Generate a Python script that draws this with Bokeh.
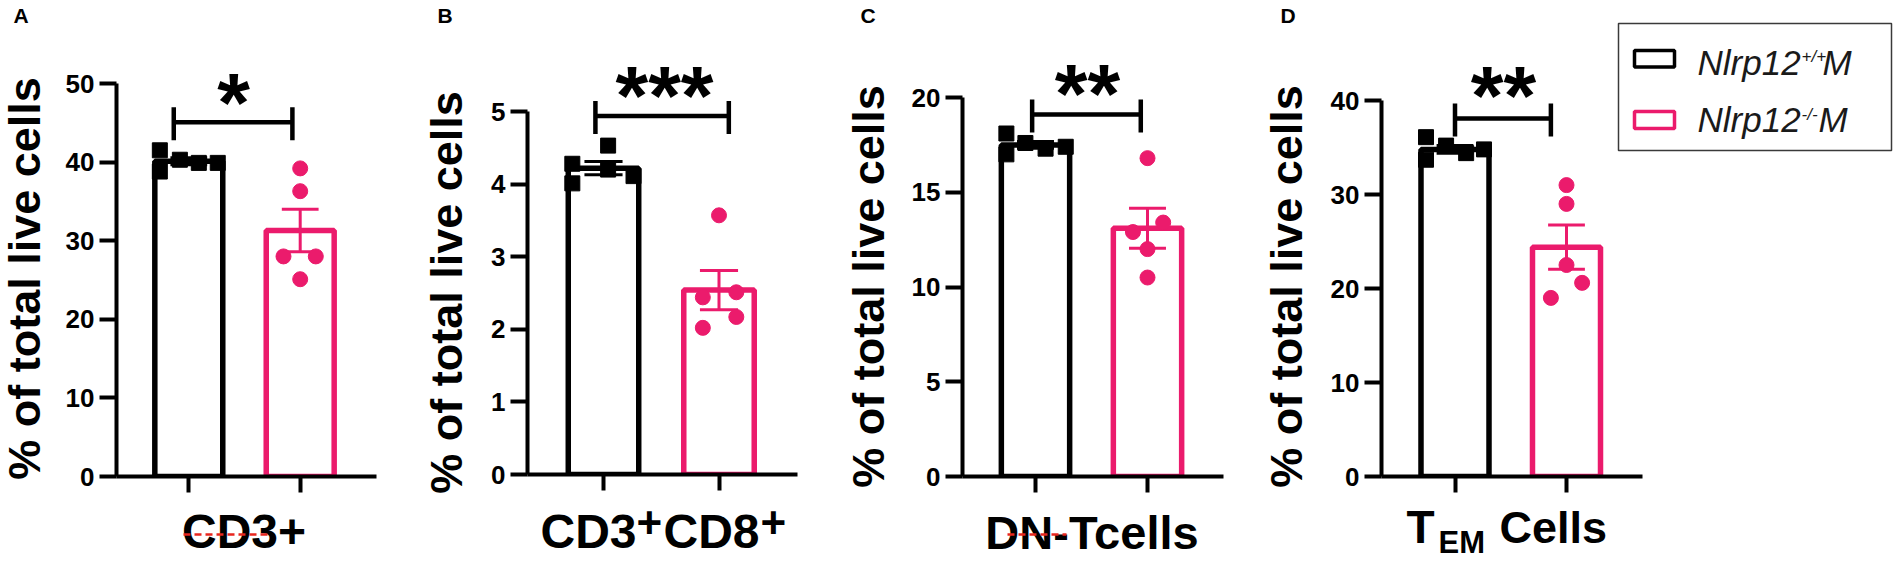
import numpy as np
from bokeh.plotting import figure
from bokeh.models import Label, FixedTicker, Range1d
from bokeh.layouts import row, column
from bokeh.embed import file_html
from bokeh.resources import INLINE

# ---------------- data ----------------
groups = ["Nlrp12+/+M", "Nlrp12-/-M"]
panel_letters = ["A", "B", "C", "D"]
categories = ["CD3+", "CD3+CD8+", "DN-Tcells", "TEM Cells"]
sig_labels = ["*", "***", "**", "**"]
y_title = "% of total live cells"

a_wt = [41.5, 38.8, 40.3, 39.9, 39.9]
a_ko = [39.2, 36.3, 28.0, 28.0, 25.1]
a_mean = [40.1, 31.3]
a_sem = [0.44, 2.7]
a_ticks = [0, 10, 20, 30, 40, 50]

b_wt = [4.53, 4.28, 4.01, 4.20, 4.11]
b_ko = [3.57, 2.44, 2.51, 2.17, 2.02]
b_mean = [4.22, 2.54]
b_sem = [0.09, 0.27]
b_ticks = [0, 1, 2, 3, 4, 5]

c_wt = [18.1, 17.0, 17.6, 17.3, 17.4]
c_ko = [16.8, 12.9, 13.4, 12.0, 10.5]
c_mean = [17.5, 13.1]
c_sem = [0.18, 1.05]
c_ticks = [0, 5, 10, 15, 20]

d_wt = [36.1, 33.7, 35.2, 34.4, 34.8]
d_ko = [31.0, 29.0, 22.5, 20.6, 19.0]
d_mean = [34.8, 24.4]
d_sem = [0.40, 2.35]
d_ticks = [0, 10, 20, 30, 40]

# ---------------- layout / style (pixel positions on the page) ----------------
BLACK = "#000000"
PINK = "#EB1B6C"
RED = "#E8261E"
FONT = "Liberation Sans"
W_TOTAL, H_TOTAL = 1895, 562
K = 0.43          # baseline calibration of rendered labels (fraction of font size)
XAX_H = 20        # height reserved for the x axis ticks below each frame

LAY = [
    dict(panel=(0, 410), strip=56, L=116, R=376, c1=188.3, c2=299.7, y0=476, ytop=83,
         jw=[-0.26, -0.26, -0.08, 0.09, 0.26], jk=[0, 0, -0.15, 0.14, 0],
         br=(0.865, 1.93), br_y=121.7, star=(233, 90), ylx=43, ylc=278, letter=13),
    dict(panel=(410, 835), strip=482, L=527, R=797, c1=603, c2=718.5, y0=474, ytop=111,
         jw=[0.04, -0.27, -0.27, 0.04, 0.26], jk=[0, -0.14, 0.15, 0.15, -0.14],
         br=(0.93, 2.085), br_y=115.4, star=(664, 83), ylx=465, ylc=292, letter=437),
    dict(panel=(835, 1255), strip=902, L=962, R=1223, c1=1035, c2=1147, y0=476, ytop=97,
         jw=[-0.26, -0.26, -0.09, 0.09, 0.27], jk=[0, -0.13, 0.14, 0, 0],
         br=(0.97, 1.94), br_y=114, star=(1087, 81), ylx=887, ylc=286, letter=860),
    dict(panel=(1255, 1895), strip=1321, L=1381, R=1642, c1=1454.5, c2=1566, y0=476, ytop=100,
         jw=[-0.26, -0.26, -0.08, 0.10, 0.26], jk=[0, 0, 0, 0.14, -0.14],
         br=(1.0, 1.86), br_y=118, star=(1503, 83), ylx=1305, ylc=286, letter=1280),
]

DATA = [
    (a_wt, a_ko, a_mean, a_sem, a_ticks),
    (b_wt, b_ko, b_mean, b_sem, b_ticks),
    (c_wt, c_ko, c_mean, c_sem, c_ticks),
    (d_wt, d_ko, d_mean, d_sem, d_ticks),
]


def lab(p, x, y, text, size, style="bold", align="left", color=BLACK, angle=0.0):
    p.add_layout(Label(x=x, y=y, text=text, text_font=FONT, text_font_size=f"{size}px",
                       text_font_style=style, text_align=align,
                       text_baseline="alphabetic", text_color=color, angle=angle))


def blank(x_left, x_right, y_top, y_bot, fx0=None, fx1=None):
    """Figure whose frame spans [fx0, fx1] horizontally (page px) and its full
    height; data units = page pixels (y downward)."""
    fx0 = x_left if fx0 is None else fx0
    fx1 = x_right if fx1 is None else fx1
    p = figure(width=int(round(x_right - x_left)), height=int(round(y_bot - y_top)),
               x_range=Range1d(fx0, fx1), y_range=Range1d(y_bot, y_top),
               x_axis_type=None, y_axis_type=None, output_backend="svg",
               toolbar_location=None, min_border=0,
               min_border_left=int(round(fx0 - x_left)),
               min_border_right=int(round(x_right - fx1)),
               min_border_top=0, min_border_bottom=0)
    p.outline_line_color = None
    p.background_fill_color = "white"
    p.border_fill_color = "white"
    return p


def build(i):
    lay = LAY[i]
    wt, ko, mean, sem, ticks = DATA[i]
    pl, pr = lay["panel"]
    sr = lay["strip"]
    L, R, c1, c2, y0, ytop = lay["L"], lay["R"], lay["c1"], lay["c2"], lay["y0"], lay["ytop"]
    last = (i == 3)
    Rf = pr if last else R
    sx = c2 - c1
    topval = ticks[-1]
    sy = (y0 - ytop) / topval
    x0 = 1 - (c1 - L) / sx
    x1 = 2 + (Rf - c2) / sx
    y_end = y0 / sy

    def X(px):
        return 1 + (px - c1) / sx

    def Y(py):
        return (y0 - py) / sy

    # ---- left strip: panel letter + y title
    strip = blank(pl, sr, 0, H_TOTAL)
    lab(strip, lay["letter"], 24.5 - K * 21, panel_letters[i], 21)
    lab(strip, lay["ylx"] - K * 45, lay["ylc"], y_title, 45, align="center",
        angle=np.pi / 2)

    # ---- main plot
    p = figure(width=pr - sr, height=y0 + XAX_H, x_range=(x0, x1), y_range=(0, y_end),
               output_backend="svg", toolbar_location=None,
               min_border_left=L - sr, min_border_right=pr - Rf,
               min_border_top=0, min_border_bottom=XAX_H)
    p.outline_line_color = None
    p.xgrid.grid_line_color = None
    p.ygrid.grid_line_color = None
    p.background_fill_color = "white"
    p.border_fill_color = "white"

    yax = p.yaxis[0]
    yax.ticker = FixedTicker(ticks=ticks)
    yax.bounds = (0, topval)
    yax.axis_line_width = 4
    yax.axis_line_color = BLACK
    yax.major_tick_line_width = 4
    yax.major_tick_line_color = BLACK
    yax.major_tick_out = 17
    yax.major_tick_in = 0
    yax.minor_tick_line_color = None
    yax.major_label_standoff = 5
    yax.major_label_text_font = FONT
    yax.major_label_text_font_size = "26px"
    yax.major_label_text_font_style = "bold"
    yax.major_label_text_color = BLACK

    xax = p.xaxis[0]
    xax.ticker = FixedTicker(ticks=[1, 2])
    xax.major_label_overrides = {1: "", 2: ""}
    xax.major_label_text_font_size = "1px"
    xax.major_label_standoff = 0
    xax.axis_line_width = 4
    xax.axis_line_color = BLACK
    xax.major_tick_line_width = 4
    xax.major_tick_line_color = BLACK
    xax.major_tick_out = 16
    xax.major_tick_in = 0
    xax.minor_tick_line_color = None
    xax.bounds = (x0, X(R))

    cols = [BLACK, PINK]
    xs = [1, 2]
    p.vbar(x=xs, top=mean, width=0.61, fill_color="white", line_color=cols,
           line_width=5.5)

    lo = [m - s for m, s in zip(mean, sem)]
    hi = [m + s for m, s in zip(mean, sem)]
    hw = 0.165
    p.segment(x0=xs, y0=lo, x1=xs, y1=hi, line_color=cols, line_width=3)
    p.segment(x0=[x - hw for x in xs], y0=hi, x1=[x + hw for x in xs], y1=hi,
              line_color=cols, line_width=3)
    p.segment(x0=[x - hw for x in xs], y0=lo, x1=[x + hw for x in xs], y1=lo,
              line_color=cols, line_width=3)

    p.scatter(x=[1 + j for j in lay["jw"]], y=wt, marker="square", size=15, color=BLACK)
    p.scatter(x=[2 + j for j in lay["jk"]], y=ko, marker="circle", size=15, color=PINK)

    bl, brr = lay["br"]
    by = lay["br_y"]
    p.segment(x0=[bl, bl, brr], y0=[Y(by), Y(by - 15), Y(by - 15)],
              x1=[brr, bl, brr], y1=[Y(by), Y(by + 18), Y(by + 18)],
              line_color=BLACK, line_width=4.5)
    scx, scy = lay["star"]
    fs = 84
    lab(p, X(scx), Y(scy + 0.58 * fs - K * fs), sig_labels[i], fs, align="center")

    if last:
        p.quad(left=[X(1618)], right=[X(1891)], top=[Y(23)], bottom=[Y(150)],
               fill_color=None, line_color="#3a3a3a", line_width=1.5)
        p.quad(left=[X(1634), X(1634)], right=[X(1674), X(1674)],
               top=[Y(50), Y(111)], bottom=[Y(66.5), Y(128)],
               fill_color="white", line_color=cols, line_width=3.5)
        tc = "#1a1a1a"
        for (txt, px, base, size) in [("Nlrp12", 1697, 77, 35), ("+/+", 1801, 63, 17),
                                      ("M", 1822, 77, 35), ("Nlrp12", 1697, 134, 35),
                                      ("-/-", 1801, 121, 17), ("M", 1818, 134, 35)]:
            lab(p, X(px), Y(base - K * size), txt, size, style="italic", color=tc)

    # ---- caption below the x axis (its frame is aligned with the main frame)
    cap = blank(sr, pr, y0 + XAX_H, H_TOTAL, fx0=L, fx1=Rf)
    if i == 0:
        lab(cap, 243.5, 552 - K * 48, categories[0], 48, align="center")
        r = cap.segment(x0=[183], y0=[534], x1=[270], y1=[534], line_color=RED,
                        line_width=2.5, line_dash="7 4")
        r.level = "overlay"
    elif i == 1:
        lab(cap, 540, 552 - K * 48, "CD3", 48)
        lab(cap, 636, 541 - K * 44, "+", 44)
        lab(cap, 663, 552 - K * 48, "CD8", 48)
        lab(cap, 760, 541 - K * 44, "+", 44)
    elif i == 2:
        lab(cap, 1091.5, 552 - K * 47, categories[2], 47, align="center")
        r = cap.segment(x0=[1007], y0=[534], x1=[1066], y1=[534], line_color=RED,
                        line_width=2.5, line_dash="7 4")
        r.level = "overlay"
    else:
        lab(cap, 1406, 546 - K * 46, "T", 46)
        lab(cap, 1438, 555 - K * 31, "EM", 31)
        lab(cap, 1499, 546 - K * 45, "Cells", 45)

    return row(strip, column(p, cap))


panels = [build(i) for i in range(4)]
layout = row(*panels)
open("out.html", "w").write(file_html(layout, INLINE))
